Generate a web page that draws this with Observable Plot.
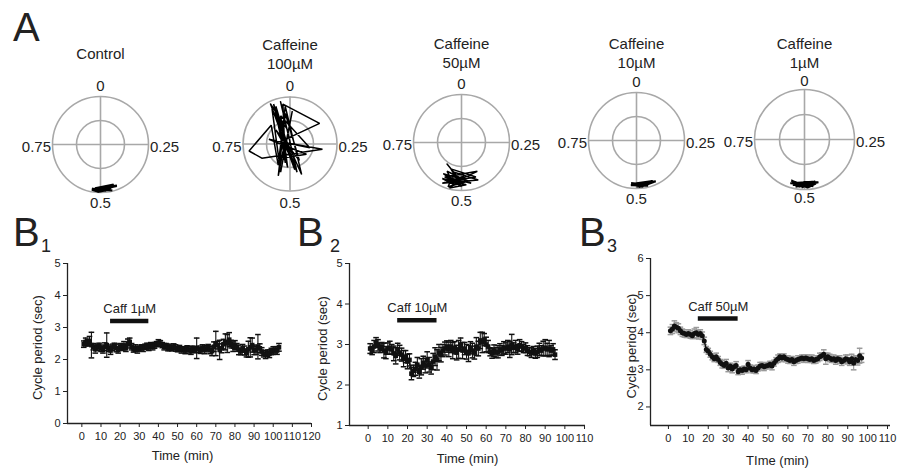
<!DOCTYPE html>
<html>
<head>
<meta charset="utf-8">
<script src="https://cdn.jsdelivr.net/npm/d3@7"></script>
<script src="https://cdn.jsdelivr.net/npm/@observablehq/plot@0.6"></script>
<style>
  body { margin: 0; background: #fff; }
  #fig { position: relative; width: 901px; height: 470px; background: #fff; overflow: hidden;
         font-family: "Liberation Sans", Arial, Helvetica, sans-serif; color: #222; }
  .pl { position: absolute; line-height: 1; color: #222; }
  #fig svg { position: absolute; }
</style>
</head>
<body>
<div id="fig"></div>
<script>
// ---------------- DATA ----------------
// Panel A: phase (0-1, cycle fraction) and amplitude of successive cycles
const phaseTickValues = [0, 0.25, 0.5, 0.75];

const ctrlPhase = [0.50,0.52,0.48,0.51,0.53,0.49,0.45,0.50,0.52,0.47,0.51,0.44,0.53,0.50,0.48,0.52,0.45,0.47,0.50,0.51,0.49,0.53,0.46,0.50,0.44,0.52,0.49,0.51,0.47,0.50];
const ctrlAmp   = [0.95,0.97,0.93,0.98,0.96,0.92,0.90,0.97,0.94,0.96,0.99,0.92,0.95,0.91,0.97,0.92,0.88,0.95,0.98,0.93,0.96,0.94,0.99,0.92,0.93,0.97,0.95,0.91,0.94,0.96];

const c100Phase = [0.974,0.928,0.471,0.943,0.539,0.972,0.153,0.789,0.275,0.676,0.723,0.875,0.581,0.980,0.442,0.925,0.551,0.011,0.574,0.339,0.785,0.280,0.949,0.516,0.938,0.500,0.875,0.418,0.976,0.556,0.875,0.461,0.965];
const c100Amp   = [0.304,0.957,0.559,0.854,0.412,0.863,0.768,0.206,0.699,0.671,0.883,0.566,0.515,0.806,0.696,0.841,0.632,0.702,0.335,0.413,0.461,0.428,0.632,0.502,0.919,0.250,0.424,0.403,0.658,0.724,0.141,0.618,0.922];

const c50Phase = [0.594,0.491,0.572,0.420,0.537,0.489,0.570,0.433,0.538,0.547,0.471,0.584,0.500,0.561,0.437,0.559,0.510,0.541,0.482,0.578,0.527,0.574,0.463,0.541];
const c50Amp   = [0.541,0.881,0.800,0.685,0.873,0.702,0.939,0.855,0.638,0.962,0.814,0.753,0.920,0.592,0.780,0.880,0.782,0.982,0.886,0.850,0.893,0.671,0.873,0.776];

const c10Phase = [0.49,0.47,0.51,0.45,0.50,0.48,0.52,0.46,0.49,0.44,0.50,0.47,0.51,0.48,0.43,0.50,0.49,0.47,0.52,0.46,0.48,0.50,0.44,0.49,0.47,0.51,0.48,0.46,0.50,0.48];
const c10Amp   = [0.92,0.95,0.90,0.93,0.96,0.91,0.94,0.97,0.89,0.92,0.95,0.90,0.93,0.96,0.94,0.91,0.97,0.92,0.90,0.95,0.93,0.89,0.91,0.96,0.94,0.92,0.97,0.90,0.93,0.95];

const c1Phase = [0.50,0.53,0.47,0.52,0.55,0.49,0.46,0.51,0.54,0.48,0.52,0.45,0.50,0.53,0.47,0.51,0.49,0.54,0.46,0.52,0.48,0.50,0.55,0.47,0.51,0.49,0.53,0.48,0.50,0.52];
const c1Amp   = [0.92,0.88,0.95,0.90,0.86,0.96,0.91,0.87,0.93,0.89,0.95,0.90,0.85,0.92,0.88,0.96,0.90,0.94,0.87,0.91,0.95,0.89,0.92,0.86,0.94,0.90,0.96,0.88,0.93,0.91];

// Panel B: time (min), cycle period mean (sec) and error
const timeB1 = [1,2,3,4,5,6,7,8,9,10,11,12,13,14,15,16,17,18,19,20,21,22,23,24,25,26,27,28,29,30,31,32,33,34,35,36,37,38,39,40,41,42,43,44,45,46,47,48,49,50,51,52,53,54,55,56,57,58,59,60,61,62,63,64,65,66,67,68,69,70,71,72,73,74,75,76,77,78,79,80,81,82,83,84,85,86,87,88,89,90,91,92,93,94,95,96,97,98,99,100,101,102,103];
const periodB1 = [2.48,2.55,2.52,2.58,2.45,2.40,2.32,2.38,2.42,2.35,
  2.30,2.40,2.45,2.35,2.28,2.38,2.42,2.36,2.30,2.40,
  2.38,2.44,2.35,2.50,2.55,2.40,2.32,2.36,2.30,2.34,
  2.38,2.35,2.40,2.42,2.38,2.45,2.40,2.44,2.48,2.52,
  2.50,2.45,2.40,2.42,2.36,2.38,2.35,2.40,2.36,2.32,
  2.35,2.30,2.32,2.28,2.34,2.30,2.28,2.32,2.30,2.35,
  2.32,2.28,2.36,2.30,2.34,2.38,2.30,2.26,2.40,2.50,
  2.45,2.30,2.35,2.48,2.55,2.50,2.62,2.48,2.40,2.45,
  2.38,2.30,2.25,2.35,2.28,2.20,2.32,2.38,2.45,2.30,
  2.28,2.40,2.35,2.25,2.18,2.15,2.20,2.18,2.25,2.28,
  2.30,2.28,2.38];
const errB1 = [.10,.12,.10,.14,.40,.10,.12,.10,.09,.10,
  .10,.12,.38,.10,.12,.10,.09,.12,.10,.10,
  .10,.12,.10,.14,.12,.10,.09,.10,.10,.08,
  .08,.10,.08,.09,.10,.08,.10,.09,.08,.10,
  .09,.08,.10,.08,.09,.10,.08,.09,.10,.08,
  .09,.10,.08,.10,.09,.10,.12,.10,.09,.32,
  .10,.09,.10,.12,.10,.09,.12,.14,.15,.38,
  .12,.30,.14,.15,.25,.28,.22,.12,.15,.14,
  .12,.15,.10,.12,.14,.12,.25,.30,.22,.15,
  .12,.38,.14,.12,.10,.12,.10,.12,.10,.12,
  .10,.12,.12];

const timeB2 = [1,2,3,4,5,6,7,8,9,10,11,12,13,14,15,16,17,18,19,20,21,22,23,24,25,26,27,28,29,30,31,32,33,34,35,36,37,38,39,40,41,42,43,44,45,46,47,48,49,50,51,52,53,54,55,56,57,58,59,60,61,62,63,64,65,66,67,68,69,70,71,72,73,74,75,76,77,78,79,80,81,82,83,84,85,86,87,88,89,90,91,92,93,94,95];
const periodB2 = [2.90,2.85,2.95,3.05,2.98,2.92,2.95,2.85,2.80,2.90,
  2.92,2.88,2.78,2.72,2.88,2.80,2.75,2.65,2.70,2.58,
  2.62,2.28,2.35,2.40,2.50,2.32,2.45,2.55,2.48,2.62,
  2.50,2.42,2.58,2.70,2.62,2.80,2.75,2.85,2.90,2.95,
  2.88,2.95,2.85,2.92,2.80,2.88,3.00,2.85,2.90,2.82,
  2.78,2.92,2.85,2.80,2.95,2.90,3.10,3.05,3.12,3.00,
  2.95,2.82,2.78,2.85,2.80,2.82,2.88,2.85,2.92,2.90,
  2.95,2.88,3.00,2.92,2.95,2.88,2.98,2.95,2.90,2.92,
  2.85,2.82,2.80,2.85,2.78,2.82,2.88,2.85,2.90,2.92,
  2.88,2.90,2.85,2.88,2.75];
const errB2 = [.12,.10,.15,.12,.14,.12,.10,.18,.15,.14,
  .16,.12,.18,.20,.15,.18,.16,.20,.15,.18,
  .15,.15,.14,.16,.18,.15,.20,.16,.18,.20,
  .18,.15,.20,.22,.25,.20,.18,.15,.16,.14,
  .18,.15,.20,.15,.18,.22,.16,.20,.15,.18,
  .20,.15,.18,.16,.22,.18,.20,.25,.15,.18,
  .15,.10,.12,.14,.12,.15,.14,.12,.15,.14,
  .15,.20,.25,.12,.15,.12,.14,.12,.10,.12,
  .12,.10,.12,.10,.12,.14,.15,.12,.18,.20,
  .15,.20,.12,.14,.12];

const timeB3 = [1,2,3,4,5,6,7,8,9,10,11,12,13,14,15,16,17,18,19,20,21,22,23,24,25,26,27,28,29,30,31,32,33,34,35,36,37,38,39,40,41,42,43,44,45,46,47,48,49,50,51,52,53,54,55,56,57,58,59,60,61,62,63,64,65,66,67,68,69,70,71,72,73,74,75,76,77,78,79,80,81,82,83,84,85,86,87,88,89,90,91,92,93,94,95,96,97];
const periodB3 = [4.05,4.10,4.18,4.15,4.12,4.05,4.00,3.98,3.95,3.98,
  3.95,3.92,3.98,4.00,3.95,3.98,3.92,3.78,3.55,3.50,
  3.42,3.35,3.30,3.35,3.28,3.20,3.15,3.12,3.18,3.05,
  3.10,3.02,3.08,3.12,2.95,3.00,2.98,3.02,3.00,3.15,
  3.05,3.00,3.02,2.98,3.05,3.10,3.12,3.08,3.10,3.12,
  3.15,3.10,3.18,3.25,3.30,3.35,3.32,3.35,3.30,3.28,
  3.25,3.28,3.22,3.25,3.28,3.30,3.32,3.30,3.32,3.30,
  3.28,3.30,3.25,3.28,3.30,3.35,3.38,3.42,3.30,3.35,
  3.32,3.28,3.30,3.25,3.30,3.28,3.22,3.25,3.30,3.28,
  3.22,3.30,3.18,3.28,3.25,3.38,3.32];
const errB3 = [.10,.12,.14,.12,.12,.10,.10,.10,.08,.10,
  .10,.08,.12,.14,.12,.10,.10,.10,.08,.08,
  .08,.08,.08,.10,.08,.08,.10,.08,.10,.10,
  .08,.10,.08,.10,.08,.08,.10,.08,.08,.10,
  .08,.08,.10,.08,.08,.10,.08,.10,.08,.08,
  .08,.10,.08,.08,.10,.08,.10,.08,.08,.10,
  .08,.08,.10,.08,.10,.08,.08,.10,.08,.10,
  .08,.10,.08,.10,.08,.10,.08,.12,.15,.10,
  .10,.08,.10,.10,.08,.10,.10,.08,.10,.12,
  .10,.12,.18,.10,.12,.20,.12];

const caffStart = 15, caffEnd = 35;
const xTicksB1 = [0,10,20,30,40,50,60,70,80,90,100,110,120];
const xTicksB23 = [0,10,20,30,40,50,60,70,80,90,100,110];
const yTicksB1 = [0,1,2,3,4,5];
const yTicksB2 = [1,2,3,4,5];
const yTicksB3 = [2,3,4,5,6];

// ---------------- DRAWING ----------------
const FONT = '"Liberation Sans", Arial, Helvetica, sans-serif';
const TXT = "#222";
const GRID = "#a8a8a8";
const fig = document.getElementById("fig");

function place(svg, left, top) {
  svg.style.left = left + "px";
  svg.style.top = top + "px";
  fig.appendChild(svg);
}
function label(text, left, top, size) {
  const d = document.createElement("div");
  d.className = "pl";
  d.textContent = text;
  d.style.left = left + "px";
  d.style.top = top + "px";
  d.style.fontSize = size + "px";
  fig.appendChild(d);
}

const TAU = 2 * Math.PI;
function polar(o) {
  const M = {l: 50, r: 50, t: 70, b: 45};
  const size = 3 * o.R;
  const pts = o.phase.map((p, i) => ({x: o.amp[i] * Math.sin(TAU * p), y: o.amp[i] * Math.cos(TAU * p)}));
  const rTop = 58 / o.R, rBot = 59 / o.R, rSide = (o.R + 1.5) / o.R;
  const svg = Plot.plot({
    width: size + M.l + M.r, height: size + M.t + M.b,
    marginLeft: M.l, marginRight: M.r, marginTop: M.t, marginBottom: M.b,
    x: {domain: [-1.5, 1.5], axis: null},
    y: {domain: [-1.5, 1.5], axis: null},
    style: {background: "transparent", overflow: "visible", fontFamily: FONT, color: TXT},
    marks: [
      Plot.dot([0], {x: () => 0, y: () => 0, r: o.R, stroke: GRID, strokeWidth: 1.6, fill: "none"}),
      Plot.dot([0], {x: () => 0, y: () => 0, r: o.R / 2, stroke: GRID, strokeWidth: 1.6, fill: "none"}),
      Plot.ruleX([0], {y1: -1, y2: 1, stroke: GRID, strokeWidth: 1.6}),
      Plot.ruleY([0], {x1: -1, x2: 1, stroke: GRID, strokeWidth: 1.6}),
      Plot.line(pts, {x: "x", y: "y", stroke: "#000", strokeWidth: o.sw, strokeLinejoin: "miter"}),
      Plot.text(phaseTickValues.filter(p => p === 0), {
        x: p => rTop * Math.sin(TAU * p), y: p => rTop * Math.cos(TAU * p), dy: 0,
        text: p => String(p), fontSize: 15, fill: TXT}),
      Plot.text(phaseTickValues.filter(p => p === 0.5), {
        x: p => rBot * Math.sin(TAU * p), y: p => rBot * Math.cos(TAU * p), dy: 0,
        text: p => String(p), fontSize: 15, fill: TXT}),
      Plot.text(phaseTickValues.filter(p => p === 0.25), {
        x: p => rSide * Math.sin(TAU * p), y: p => rSide * Math.cos(TAU * p), dy: 3,
        text: p => String(p), textAnchor: "start", fontSize: 15, fill: TXT}),
      Plot.text(phaseTickValues.filter(p => p === 0.75), {
        x: p => rSide * Math.sin(TAU * p), y: p => rSide * Math.cos(TAU * p), dy: 3,
        text: p => String(p), textAnchor: "end", fontSize: 15, fill: TXT}),
      Plot.text([o.title], {x: () => 0, frameAnchor: "top", dy: 52 - (o.cy - 1.5 * o.R),
        text: d => d, lineAnchor: "middle", lineHeight: 1.27, fontSize: 15, fill: TXT})
    ]
  });
  place(svg, o.cx - 1.5 * o.R - M.l, o.cy - 1.5 * o.R - M.t);
}

// horizontal cap symbol for error bars
const hbar = {draw(ctx, size) { const w = Math.sqrt(size / Math.PI); ctx.moveTo(-w, 0); ctx.lineTo(w, 0); }};

function bPanel(o) {
  const data = o.t.map((t, i) => ({t, v: o.v[i], lo: o.v[i] - o.e[i], hi: o.v[i] + o.e[i]}));
  const bar = [{s: caffStart, e: caffEnd, y: o.barY}];
  const svg = Plot.plot({
    width: o.width, height: o.height,
    marginLeft: o.ml, marginRight: o.mr, marginTop: o.mt, marginBottom: o.mb,
    x: {domain: o.xDomain, axis: null},
    y: {domain: o.yDomain, axis: null},
    style: {background: "transparent", overflow: "visible", fontFamily: FONT, color: TXT},
    marks: [
      Plot.ruleX([o.xDomain[0]], {stroke: "#222", strokeWidth: 1.3}),
      Plot.ruleY([o.yDomain[0]], {stroke: "#222", strokeWidth: 1.3}),
      Plot.axisX(o.xTicks, {anchor: "bottom", tickSize: 4, tickPadding: 5, fontSize: 11, label: null, stroke: "#222", fill: TXT}),
      Plot.axisY(o.yTicks, {anchor: "left", tickSize: 4, tickPadding: 3, fontSize: 11, label: null, stroke: "#222", fill: TXT}),
      Plot.ruleX(data, {x: "t", y1: "lo", y2: "hi", stroke: o.errColor, strokeWidth: 1.1}),
      Plot.dot(data, {x: "t", y: "hi", symbol: hbar, r: 2.8, stroke: o.errColor, fill: "none", strokeWidth: 1.5}),
      Plot.dot(data, {x: "t", y: "lo", symbol: hbar, r: 2.8, stroke: o.errColor, fill: "none", strokeWidth: 1.5}),
      Plot.line(data, {x: "t", y: "v", stroke: "#111", strokeWidth: 1.4}),
      Plot.dot(data, {x: "t", y: "v", symbol: o.symbol, r: o.symbolR, fill: "#111", stroke: "none"}),
      Plot.ruleY(bar, {x1: "s", x2: "e", y: "y", stroke: "#111", strokeWidth: 4.5}),
      Plot.text(bar, {x: d => (d.s + d.e) / 2, y: "y", dy: -12, text: () => o.caffLabel, fontSize: 13, fill: TXT}),
      Plot.text([o.yLabel], {frameAnchor: "left", textAnchor: "middle", lineAnchor: "middle", rotate: -90,
        dx: o.yLabelDx, dy: 4, text: d => d, fontSize: 13, fill: TXT}),
      Plot.text([o.xLabel], {frameAnchor: "bottom", textAnchor: "middle", lineAnchor: "middle",
        dx: o.xLabelDx, dy: o.xLabelDy, text: d => d, fontSize: 13, fill: TXT})
    ]
  });
  place(svg, o.left, o.top);
}

// Panel A
label("A", 13, 7, 40);
polar({cx: 100, cy: 144, R: 48, title: "Control", phase: ctrlPhase, amp: ctrlAmp, sw: 2.2});
polar({cx: 289, cy: 143, R: 47, title: "Caffeine\n100µM", phase: c100Phase, amp: c100Amp, sw: 1.5});
polar({cx: 461, cy: 142, R: 48, title: "Caffeine\n50µM", phase: c50Phase, amp: c50Amp, sw: 1.5});
polar({cx: 636, cy: 140, R: 48, title: "Caffeine\n10µM", phase: c10Phase, amp: c10Amp, sw: 2.2});
polar({cx: 804, cy: 139, R: 50, title: "Caffeine\n1µM", phase: c1Phase, amp: c1Amp, sw: 2.2});

// Panel B
bPanel({left: 0, top: 240, width: 320, height: 230, ml: 67, mr: 9, mt: 23, mb: 47,
  xDomain: [-7.5, 120], yDomain: [0, 5], xTicks: xTicksB1, yTicks: yTicksB1,
  t: timeB1, v: periodB1, e: errB1, barY: 3.2, caffLabel: "Caff 1µM",
  errColor: "#111", symbol: "square", symbolR: 2.6,
  yLabel: "Cycle period (sec)", yLabelDx: -30, xLabel: "Time (min)", xLabelDx: -7, xLabelDy: 32});
bPanel({left: 300, top: 240, width: 300, height: 230, ml: 49, mr: 15, mt: 23, mb: 45,
  xDomain: [-9.5, 110.5], yDomain: [1, 5], xTicks: xTicksB23, yTicks: yTicksB2,
  t: timeB2, v: periodB2, e: errB2, barY: 3.6, caffLabel: "Caff 10µM",
  errColor: "#111", symbol: "square", symbolR: 2.6,
  yLabel: "Cycle period (sec)", yLabelDx: -27, xLabel: "Time (min)", xLabelDx: 0, xLabelDy: 33});
bPanel({left: 600, top: 240, width: 301, height: 230, ml: 50, mr: 11, mt: 18, mb: 45,
  xDomain: [-9, 111.5], yDomain: [1.5, 6], xTicks: xTicksB23, yTicks: yTicksB3,
  t: timeB3, v: periodB3, e: errB3, barY: 4.38, caffLabel: "Caff 50µM",
  errColor: "#9a9a9a", symbol: "circle", symbolR: 2.5,
  yLabel: "Cycle period (sec)", yLabelDx: -19, xLabel: "TIme (min)", xLabelDx: 7, xLabelDy: 35});

label("B", 13, 212, 40);
label("1", 41, 237, 18);
label("B", 297, 212, 40);
label("2", 330, 237, 18);
label("B", 579, 212, 40);
label("3", 607, 237, 18);
</script>
</body>
</html>
